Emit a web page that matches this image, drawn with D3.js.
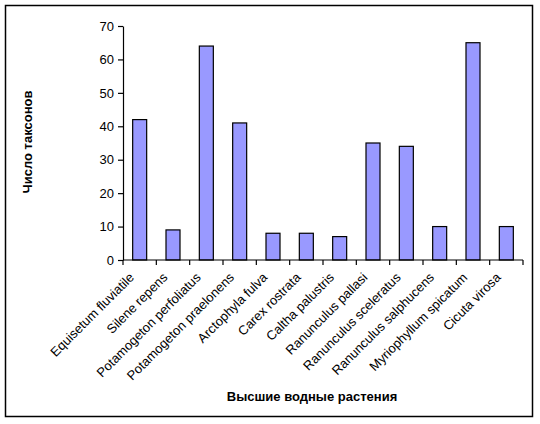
<!DOCTYPE html>
<html>
<head>
<meta charset="utf-8">
<script src="https://cdn.jsdelivr.net/npm/d3@7"></script>
<style>
    body { margin: 0; background: #fff; }
    text { font-family: Arial, "Liberation Sans", sans-serif; }
</style>
</head>
<body>
<div id="chart_div"></div>
<script>
// данные графика
const categories = [
    "Equisetum fluviatile", "Silene repens", "Potamogeton perfoliatus",
    "Potamogeton praelonens", "Arctophyla fulva", "Carex rostrata",
    "Caltha palustris", "Ranunculus pallasi", "Ranunculus sceleratus",
    "Ranunculus salphucens", "Myriophyllum spicatum", "Cicuta virosa"
]
const values = [42, 9, 64, 41, 8, 8, 7, 35, 34, 10, 65, 10]
const yTicks = [0, 10, 20, 30, 40, 50, 60, 70]
const xTitle = "Высшие водные растения"
const yTitle = "Число таксонов"

const width = 540
const height = 424
const margin = { top: 26, right: 17, bottom: 164, left: 123 }

const svg = d3.select('#chart_div').append('svg')
    .attr('width', width)
    .attr('height', height)

// рамка вокруг графика
svg.append('rect')
    .attr('x', 5.5)
    .attr('y', 5.5)
    .attr('width', 527)
    .attr('height', 411)
    .attr('fill', '#fff')
    .attr('stroke', '#000')
    .attr('stroke-width', 1.5)

const x = d3.scaleBand()
    .domain(categories)
    .range([margin.left, width - margin.right])
    .paddingInner(0.58)
    .paddingOuter(0.29)

const y = d3.scaleLinear()
    .domain([0, 70])
    .range([height - margin.bottom, margin.top])

const g = svg.append('g')

// столбцы
g.selectAll('rect.bar')
    .data(values)
    .enter()
    .append('rect')
    .attr('class', 'bar')
    .attr('x', (d, i) => x(categories[i]))
    .attr('y', d => y(d))
    .attr('width', x.bandwidth())
    .attr('height', d => y(0) - y(d))
    .attr('fill', '#9999ff')
    .attr('stroke', '#000')
    .attr('stroke-width', 1.2)

// ось Y
const yAxis = g.append('g')
    .attr('transform', `translate(${margin.left},0)`)
    .call(d3.axisLeft(y).tickValues(yTicks).tickSize(5).tickPadding(4).tickSizeOuter(0))
yAxis.select('.domain').attr('stroke', '#000').attr('stroke-width', 1.2)
yAxis.selectAll('.tick line').attr('stroke', '#000').attr('stroke-width', 1.2)
yAxis.selectAll('.tick text')
    .attr('font-size', 13)
    .attr('fill', '#000')
    .attr('font-family', 'Arial, "Liberation Sans", sans-serif')

// ось X: линия и засечки между категориями
const x0 = margin.left
const x1 = width - margin.right
const step = (x1 - x0) / categories.length
const y0 = y(0)
g.append('line')
    .attr('x1', x0).attr('x2', x1)
    .attr('y1', y0).attr('y2', y0)
    .attr('stroke', '#000')
    .attr('stroke-width', 1.2)
d3.range(categories.length + 1).forEach(i => {
    g.append('line')
        .attr('x1', x0 + i * step).attr('x2', x0 + i * step)
        .attr('y1', y0).attr('y2', y0 + 5)
        .attr('stroke', '#000')
        .attr('stroke-width', 1.2)
})

// подписи категорий под углом 45°
g.selectAll('text.cat')
    .data(categories)
    .enter()
    .append('text')
    .attr('class', 'cat')
    .attr('transform', d => `translate(${x(d) + x.bandwidth() / 2 - 8},${y0 + 15}) rotate(-45)`)
    .attr('text-anchor', 'end')
    .attr('dy', '0.35em')
    .attr('font-size', 13)
    .attr('fill', '#000')
    .text(d => d)

// заголовки осей
svg.append('text')
    .attr('x', 312)
    .attr('y', 401)
    .attr('text-anchor', 'middle')
    .attr('font-size', 13)
    .attr('font-weight', 'bold')
    .text(xTitle)

svg.append('text')
    .attr('transform', 'translate(32,142) rotate(-90)')
    .attr('text-anchor', 'middle')
    .attr('font-size', 13)
    .attr('font-weight', 'bold')
    .text(yTitle)
</script>
</body>
</html>
